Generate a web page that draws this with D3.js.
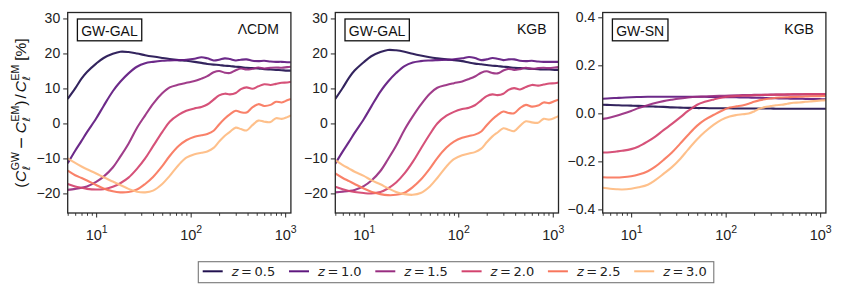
<!DOCTYPE html>
<html><head><meta charset="utf-8">
<script src="https://cdn.jsdelivr.net/npm/d3@7"></script>
<style>
body{margin:0;background:#fff;}
svg{display:block;}
</style></head>
<body>
<svg id="c" width="843" height="298"></svg>
<script>
// ---------------- DATA ----------------
const ells = [5,6,7,8,10,12,15,18,22,27,33,40,50,60,75,90,110,130,150,175,200,230,260,300,340,390,450,520,600,700,800,920,1050,1150];
const zLabels = ["0.5","1.0","1.5","2.0","2.5","3.0"];
const panelTags = ["GW-GAL","GW-GAL","GW-SN"];
const panelModels = ["\u039BCDM","KGB","KGB"];
const yTicksGal = [-20,-10,0,10,20,30];
const yTicksSn = [-0.4,-0.2,0.0,0.2,0.4];
const xMajorTicks = [10,100,1000];

// Panel 1: GW-GAL, LCDM  [%]
const galLcdmZ05 = [7.0,10.0,12.8,14.7,17.1,18.7,19.9,20.5,20.4,20.0,19.5,19.1,18.7,18.4,18.1,17.9,17.6,17.3,17.0,16.8,16.7,16.5,16.4,16.2,16.1,15.9,15.8,15.7,15.5,15.4,15.3,15.2,15.1,15.1];
const galLcdmZ10 = [-11.4,-7.8,-5.0,-2.5,1.4,5.0,9.2,11.9,14.3,16.2,17.2,17.6,17.9,18.0,18.1,18.2,18.5,18.9,18.6,18.0,18.2,18.6,18.4,18.0,18.2,18.3,17.9,17.8,17.9,17.7,17.6,17.6,17.5,17.5];
const galLcdmZ15 = [-19.0,-18.7,-18.4,-18.0,-16.7,-15.2,-12.6,-9.5,-5.8,-1.3,2.3,5.6,8.6,10.3,11.1,11.6,12.1,12.8,13.5,14.6,15.0,14.5,14.4,15.2,15.7,15.4,15.6,16.0,15.7,15.9,16.0,15.9,16.1,16.2];
const galLcdmZ20 = [-17.3,-18.0,-18.4,-18.7,-18.9,-18.8,-18.1,-17.1,-15.5,-13.0,-10.0,-6.5,-2.5,0.5,2.5,3.6,4.3,4.7,5.4,6.8,8.0,8.5,8.3,8.7,9.8,10.3,9.9,10.6,11.2,11.0,11.3,11.6,11.7,11.9];
const galLcdmZ25 = [-13.5,-14.8,-15.6,-16.3,-17.6,-18.6,-19.4,-19.7,-19.6,-18.9,-17.3,-15.3,-12.2,-9.3,-6.4,-4.8,-3.8,-3.4,-3.0,-2.1,-0.3,1.4,2.6,3.6,3.2,3.1,4.6,5.5,5.0,5.3,6.2,6.0,6.6,7.0];
const galLcdmZ30 = [-10.0,-11.3,-12.3,-13.1,-14.3,-15.4,-16.6,-17.6,-18.7,-19.5,-19.7,-19.2,-17.3,-15.0,-11.8,-9.8,-8.8,-8.4,-8.0,-7.0,-5.2,-3.5,-2.4,-1.2,-1.6,-2.0,-0.5,0.8,0.5,0.4,1.5,1.3,1.8,2.3];

// Panel 2: GW-GAL, KGB  [%]
const galKgbZ05 = [7.0,10.2,13.1,15.1,17.5,19.2,20.4,21.0,20.9,20.5,19.9,19.4,18.9,18.6,18.3,18.1,17.8,17.4,17.1,16.9,16.7,16.5,16.4,16.2,16.1,15.9,15.8,15.7,15.6,15.5,15.4,15.4,15.3,15.3];
const galKgbZ10 = [-11.5,-8.0,-5.2,-2.7,1.2,4.8,9.1,11.9,14.4,16.4,17.4,17.8,18.0,18.1,18.2,18.3,18.6,19.0,18.7,18.1,18.3,18.7,18.5,18.1,18.3,18.3,17.9,17.8,17.9,17.7,17.6,17.6,17.6,17.6];
const galKgbZ15 = [-19.7,-19.5,-19.3,-19.0,-17.9,-16.4,-13.6,-10.3,-6.4,-1.8,2.0,5.3,8.5,10.2,11.0,11.5,12.0,12.7,13.4,14.5,14.9,14.4,14.3,15.1,15.6,15.3,15.5,15.9,15.6,15.8,15.9,15.8,16.0,16.1];
const galKgbZ20 = [-18.1,-18.8,-19.3,-19.6,-19.9,-20.0,-19.6,-18.6,-16.9,-14.3,-11.0,-7.3,-3.1,0.0,2.2,3.3,4.1,4.5,5.2,6.6,7.8,8.3,8.1,8.5,9.6,10.1,9.7,10.4,11.0,10.8,11.1,11.4,11.5,11.7];
const galKgbZ25 = [-14.3,-15.6,-16.5,-17.3,-18.6,-19.5,-20.2,-20.5,-20.4,-19.8,-18.2,-16.1,-12.9,-9.9,-6.9,-5.2,-4.1,-3.6,-3.2,-2.3,-0.5,1.2,2.4,3.4,3.0,2.9,4.4,5.3,4.8,5.1,6.0,5.8,6.4,6.8];
const galKgbZ30 = [-10.5,-11.9,-12.9,-13.8,-15.0,-16.2,-17.4,-18.5,-19.6,-20.2,-20.4,-19.9,-18.0,-15.6,-12.3,-10.2,-9.1,-8.6,-8.2,-7.2,-5.4,-3.7,-2.6,-1.4,-1.8,-2.2,-0.7,0.6,0.3,0.2,1.3,1.1,1.6,2.1];

// Panel 3: GW-SN, KGB  [%]
const snKgbZ05 = [0.036,0.035,0.034,0.033,0.032,0.031,0.029,0.028,0.027,0.025,0.024,0.023,0.022,0.022,0.021,0.021,0.021,0.020,0.020,0.020,0.020,0.020,0.020,0.020,0.019,0.019,0.019,0.019,0.019,0.019,0.019,0.019,0.019,0.019];
const snKgbZ10 = [0.061,0.063,0.064,0.065,0.067,0.068,0.069,0.069,0.069,0.069,0.069,0.069,0.069,0.069,0.068,0.068,0.067,0.067,0.066,0.066,0.065,0.065,0.064,0.063,0.063,0.062,0.062,0.061,0.061,0.060,0.060,0.060,0.059,0.059];
const snKgbZ15 = [-0.023,-0.017,-0.010,-0.003,0.010,0.022,0.034,0.043,0.051,0.057,0.062,0.066,0.069,0.070,0.072,0.073,0.074,0.075,0.076,0.076,0.077,0.077,0.077,0.078,0.078,0.078,0.078,0.079,0.079,0.079,0.079,0.079,0.079,0.079];
const snKgbZ20 = [-0.163,-0.162,-0.159,-0.156,-0.149,-0.138,-0.117,-0.097,-0.070,-0.044,-0.017,0.010,0.036,0.048,0.058,0.065,0.070,0.072,0.073,0.074,0.075,0.076,0.077,0.077,0.078,0.078,0.079,0.079,0.079,0.080,0.080,0.080,0.080,0.080];
const snKgbZ25 = [-0.266,-0.267,-0.267,-0.266,-0.262,-0.255,-0.241,-0.222,-0.194,-0.163,-0.126,-0.090,-0.051,-0.027,-0.006,0.010,0.024,0.029,0.033,0.040,0.048,0.055,0.059,0.062,0.065,0.066,0.067,0.068,0.069,0.070,0.071,0.071,0.072,0.072];
const snKgbZ30 = [-0.310,-0.314,-0.316,-0.317,-0.314,-0.308,-0.297,-0.278,-0.252,-0.224,-0.190,-0.151,-0.108,-0.078,-0.047,-0.027,-0.013,-0.007,-0.004,-0.001,0.008,0.020,0.026,0.030,0.034,0.036,0.040,0.044,0.045,0.048,0.050,0.052,0.054,0.055];

// ---------------- DRAW ----------------
const svg = d3.select("#c");
const colors = ["#221150","#5f187f","#982d80","#d3436e","#f8765c","#febb81"];
const TICKFONT = "'Liberation Sans', Arial, sans-serif";
const MATHFONT = "'DejaVu Sans', sans-serif";
const AX = "#262626";

const panels = [
  {left:67.7, series:[galLcdmZ05,galLcdmZ10,galLcdmZ15,galLcdmZ20,galLcdmZ25,galLcdmZ30], ydom:[-25.6,31.7], yticks:yTicksGal, fmt:d=>String(d).replace("-","\u2212")},
  {left:335.3, series:[galKgbZ05,galKgbZ10,galKgbZ15,galKgbZ20,galKgbZ25,galKgbZ30], ydom:[-25.6,31.7], yticks:yTicksGal, fmt:d=>String(d).replace("-","\u2212")},
  {left:602.7, series:[snKgbZ05,snKgbZ10,snKgbZ15,snKgbZ20,snKgbZ25,snKgbZ30], ydom:[-0.415,0.42], yticks:yTicksSn, fmt:d=>d3.format(".1f")(d).replace("-","\u2212")}
];
const PW = 223.2, PT = 12.5, PH = 200.5;

panels.forEach((p,i) => {
  const g = svg.append("g").attr("transform",`translate(${p.left},${PT})`);
  const x = d3.scaleLog().domain([5,1150]).range([0,PW]);
  const y = d3.scaleLinear().domain(p.ydom).range([PH,0]);

  const clipId = "clip"+i;
  g.append("clipPath").attr("id",clipId).append("rect").attr("width",PW).attr("height",PH);

  const line = d3.line().x((d,k)=>x(ells[k])).y(d=>y(d)).curve(d3.curveCatmullRom.alpha(0.5));
  const lg = g.append("g").attr("clip-path",`url(#${clipId})`);
  p.series.forEach((s,k) => {
    lg.append("path").attr("d",line(s)).attr("fill","none")
      .attr("stroke",colors[k]).attr("stroke-width",2.1).attr("stroke-opacity",0.92)
      .attr("stroke-linejoin","round");
  });

  // y axis
  const ya = d3.axisLeft(y).tickValues(p.yticks).tickFormat(p.fmt).tickSize(4.5).tickPadding(3);
  const yg = g.append("g").call(ya);
  yg.select(".domain").remove();
  yg.selectAll("line").attr("stroke",AX).attr("stroke-width",1);
  yg.selectAll("text").attr("font-family",TICKFONT).attr("font-size",14).attr("fill","#222");

  // x axis minor
  const minors = [];
  [1,10,100].forEach(dec => { for(let m=2;m<=9;m++){ const v=m*dec; if(v>=5 && v<=1150) minors.push(v);} });
  const xm = d3.axisBottom(x).tickValues(minors).tickFormat("").tickSize(2.8);
  const xmg = g.append("g").attr("transform",`translate(0,${PH})`).call(xm);
  xmg.select(".domain").remove();
  xmg.selectAll("line").attr("stroke",AX).attr("stroke-width",0.9);
  // x axis major
  const xa = d3.axisBottom(x).tickValues(xMajorTicks).tickFormat("").tickSize(4.5);
  const xg = g.append("g").attr("transform",`translate(0,${PH})`).call(xa);
  xg.select(".domain").remove();
  xg.selectAll("line").attr("stroke",AX).attr("stroke-width",1);
  xg.selectAll(".tick").each(function(d){
    const t = d3.select(this).append("text").attr("y",27).attr("text-anchor","middle")
      .attr("font-family",TICKFONT).attr("font-size",14.5).attr("fill","#222");
    t.append("tspan").text("10");
    t.append("tspan").attr("dy",-7).attr("font-size",10.5).text(String(Math.round(Math.log10(d))));
  });

  // frame
  g.append("rect").attr("width",PW).attr("height",PH).attr("fill","none").attr("stroke",AX).attr("stroke-width",1.3);

  // tag box
  const tagBox = g.append("rect");
  const tag = g.append("text").attr("x",13.5).attr("y",23.5).attr("font-family",TICKFONT).attr("font-size",14).attr("fill","#111").text(panelTags[i]);
  const bb = tag.node().getBBox();
  tagBox.attr("x",bb.x-3.8).attr("y",6.5).attr("width",bb.width+7.6).attr("height",21.8)
    .attr("fill","#fff").attr("stroke","#111").attr("stroke-width",1.3);
  g.append("text").attr("x",PW-12).attr("y",21.5).attr("text-anchor","end").attr("font-family",TICKFONT)
    .attr("font-size",14).attr("fill","#111").text(panelModels[i]);
});

// ---------------- Y LABEL ----------------
(function(){
  const g = svg.append("g").attr("transform","translate(25.5,113) rotate(-90)");
  const inner = g.append("g");
  let cx = 0;
  const FS = 15.5, SS = 10.5;
  function piece(txt, opt={}) {
    const t = inner.append("text").attr("x",cx).attr("y",opt.y||0)
      .attr("font-family",opt.font||TICKFONT).attr("font-size",opt.size||FS)
      .attr("font-style",opt.italic?"italic":"normal").attr("fill","#111").text(txt);
    return t.node().getComputedTextLength();
  }
  function C(sup) {
    cx += piece("C",{italic:true}) + 0.5;
    const w1 = piece(sup,{size:SS,y:-7});
    const w2 = piece("\u2113",{size:SS,y:4.5,font:MATHFONT,italic:true});
    cx += Math.max(w1,w2);
  }
  cx += piece("(") + 0.5;
  C("GW");
  cx += 3; cx += piece("\u2212",{font:MATHFONT}); cx += 3;
  C("EM");
  cx += piece(")") + 2;
  cx += piece("/") + 2;
  C("EM");
  cx += 4;
  cx += piece("[%]");
  inner.attr("transform",`translate(${-cx/2},0)`);
})();

// ---------------- LEGEND ----------------
(function(){
  const lg = svg.append("g");
  const x0 = 198.3, top = 261.7, h = 21, step = 86.3, cy = 271.3;
  const box = lg.append("rect");
  const items = lg.append("g");
  zLabels.forEach((z,k) => {
    const ex = x0 + 4.4 + k*step;
    items.append("line").attr("x1",ex).attr("x2",ex+20).attr("y1",cy).attr("y2",cy)
      .attr("stroke",colors[k]).attr("stroke-width",2);
    const t = items.append("text").attr("x",ex+29).attr("y",cy+4.6).attr("font-family",MATHFONT)
      .attr("font-size",13).attr("fill","#222");
    t.append("tspan").attr("font-style","italic").text("z");
    t.append("tspan").text("\u2009=\u2009" + z);
  });
  const bb = items.node().getBBox();
  box.attr("x",x0).attr("y",top).attr("width",(bb.x+bb.width+7)-x0).attr("height",h)
    .attr("fill","#fff").attr("stroke","#777").attr("stroke-width",1.1);
})();
</script>
</body></html>
